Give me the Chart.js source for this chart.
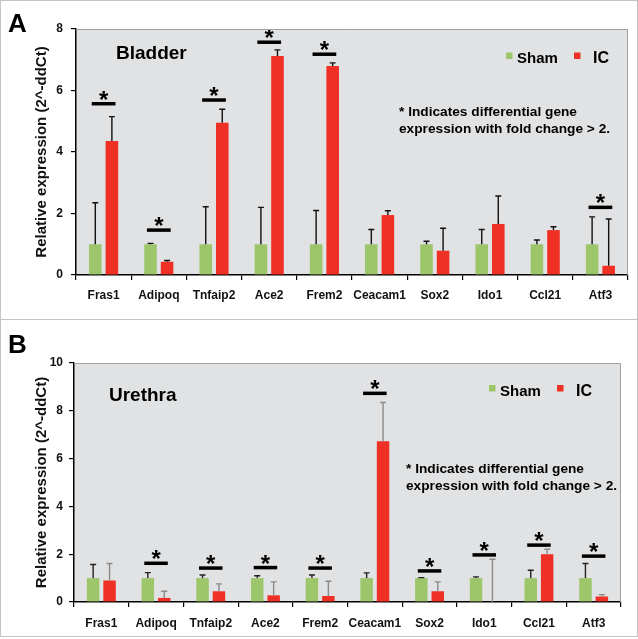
<!DOCTYPE html>
<html>
<head>
<meta charset="utf-8">
<script src="https://cdn.jsdelivr.net/npm/chart.js@4/dist/chart.umd.min.js"></script>
<style>
  html, body { margin:0; padding:0; background:#fff; }
  #wrap { position:relative; width:638px; height:639px; overflow:hidden; }
  .frame { position:absolute; border:1px solid #c4c4c4; box-sizing:border-box; }
  canvas { position:absolute; left:0; }
</style>
</head>
<body>
<div id="wrap">
  <div class="frame" style="left:0;top:0;width:638px;height:320px;"></div>
  <div class="frame" style="left:0;top:319px;width:638px;height:318px;"></div>
  <canvas id="cA" width="638" height="319" style="top:0"></canvas>
  <canvas id="cB" width="638" height="320" style="top:319px"></canvas>
</div>
<script>
// ---------- DATA ----------
const categories = ['Fras1','Adipoq','Tnfaip2','Ace2','Frem2','Ceacam1','Sox2','Ido1','Ccl21','Atf3'];
const seriesNames = ['Sham','IC'];

// Panel A - Bladder
const bladderSham   = [1, 1, 1, 1, 1, 1, 1, 1, 1, 1];
const bladderShamSD = [1.35, 0.03, 1.22, 1.20, 1.10, 0.48, 0.10, 0.48, 0.14, 0.89];
const bladderIC     = [4.36, 0.43, 4.95, 7.12, 6.80, 1.95, 0.79, 1.66, 1.46, 0.30];
const bladderICSD   = [0.79, 0.04, 0.44, 0.20, 0.10, 0.14, 0.73, 0.91, 0.11, 1.52];
const bladderSig    = [5.57, 1.46, 5.69, 7.57, 7.18, null, null, null, null, 2.20];
const bladderTicks  = {min:0, max:8, step:2};

// Panel B - Urethra
const urethraSham   = [1, 1, 1, 1, 1, 1, 1, 1, 1, 1];
const urethraShamSD = [0.57, 0.23, 0.13, 0.10, 0.13, 0.22, 0.02, 0.05, 0.33, 0.61];
const urethraIC     = [0.90, 0.17, 0.45, 0.28, 0.25, 6.73, 0.45, 0.00, 2.00, 0.23];
const urethraICSD   = [0.71, 0.28, 0.31, 0.56, 0.62, 1.62, 0.39, 1.79, 0.21, 0.08];
const urethraSig    = [null, 1.62, 1.42, 1.44, 1.42, 8.73, 1.30, 1.97, 2.38, 1.92];
const urethraTicks  = {min:0, max:10, step:2};

const yTitle = 'Relative expression (2^-ddCt)';
const noteLines = ['* Indicates differential gene', 'expression with fold change > 2.'];

// ---------- STYLE ----------
const FONT = "'Liberation Sans', Arial, Helvetica, sans-serif";
const GREEN = '#9dc66a';
const RED = '#ee3124';
const PLOT_BG = '#e1e2e4';
Chart.defaults.font.family = FONT;
Chart.defaults.color = '#111';

const decorPlugin = {
  id: 'decor',
  beforeDraw(chart, args, o) {
    const {ctx, chartArea:a} = chart;
    ctx.save();
    ctx.fillStyle = PLOT_BG;
    ctx.fillRect(a.left, a.top, a.right - a.left, a.bottom - a.top);
    ctx.restore();
  },
  afterDatasetsDraw(chart, args, o) {
    const {ctx, chartArea:a} = chart;
    const xs = chart.scales.x, ys = chart.scales.y;
    ctx.save();
    // error bars (upper only)
    chart.data.datasets.forEach((ds, di) => {
      const meta = chart.getDatasetMeta(di);
      ctx.strokeStyle = ds.errColor;
      ctx.lineWidth = 1.4;
      meta.data.forEach((bar, i) => {
        const sd = ds.sd[i];
        if (sd == null) return;
        const yTop = ys.getPixelForValue(ds.data[i] + sd);
        const yBase = ys.getPixelForValue(ds.data[i]);
        ctx.beginPath();
        ctx.moveTo(bar.x, yBase);
        ctx.lineTo(bar.x, yTop);
        ctx.moveTo(bar.x - 3, yTop);
        ctx.lineTo(bar.x + 3, yTop);
        ctx.stroke();
      });
    });
    // significance bars and stars
    const catW = (xs.right - xs.left) / chart.data.labels.length;
    o.sig.forEach((v, i) => {
      if (v == null) return;
      const cx = xs.getPixelForValue(i);
      const y = ys.getPixelForValue(v);
      ctx.strokeStyle = '#000';
      ctx.lineWidth = 3.5;
      ctx.beginPath();
      ctx.moveTo(cx - catW * 0.215, y);
      ctx.lineTo(cx + catW * 0.215, y);
      ctx.stroke();
      ctx.fillStyle = '#000';
      ctx.font = 'bold 24px ' + FONT;
      ctx.textAlign = 'center';
      ctx.textBaseline = 'alphabetic';
      ctx.fillText('*', cx, y + 4);
    });
    ctx.restore();
  },
  afterDraw(chart, args, o) {
    const {ctx, chartArea:a} = chart;
    ctx.save();
    // plot frame top/right
    ctx.strokeStyle = '#a0a0a0';
    ctx.lineWidth = 1;
    ctx.beginPath();
    ctx.moveTo(a.left, a.top + 0.5);
    ctx.lineTo(a.right - 0.5, a.top + 0.5);
    ctx.lineTo(a.right - 0.5, a.bottom);
    ctx.stroke();
    ctx.fillStyle = '#000';
    ctx.textAlign = 'left';
    ctx.textBaseline = 'alphabetic';
    // panel letter
    ctx.font = 'bold 26px ' + FONT;
    ctx.fillText(o.letter, o.letterX, o.letterY);
    // tissue title
    ctx.font = 'bold 19px ' + FONT;
    ctx.fillText(o.title, o.titleX, o.titleY);
    // note
    ctx.font = 'bold 13.7px ' + FONT;
    noteLines.forEach((t, k) => ctx.fillText(t, o.noteX, o.noteY + k * 17));
    // legend
    const L = o.legend;
    ctx.fillStyle = GREEN;
    ctx.fillRect(L.x1, L.y, 6.5, 6.5);
    ctx.fillStyle = RED;
    ctx.fillRect(L.x2, L.y, 6.5, 6.5);
    ctx.fillStyle = '#000';
    ctx.font = 'bold 15px ' + FONT;
    ctx.fillText(seriesNames[0], L.x1 + 11, L.y + 10.5);
    ctx.font = 'bold 16px ' + FONT;
    ctx.fillText(seriesNames[1], L.x2 + 19, L.y + 10.5);
    ctx.restore();
  }
};

function makeChart(id, sham, shamSD, ic, icSD, sig, tk, layout, decor, errColors) {
  return new Chart(document.getElementById(id), {
    type: 'bar',
    data: {
      labels: categories,
      datasets: [
        {label: seriesNames[0], data: sham, sd: shamSD, errColor: errColors[0],
         backgroundColor: GREEN, categoryPercentage: 0.6, barPercentage: 0.76},
        {label: seriesNames[1], data: ic, sd: icSD, errColor: errColors[1],
         backgroundColor: RED, categoryPercentage: 0.6, barPercentage: 0.76}
      ]
    },
    options: {
      responsive: false,
      animation: false,
      devicePixelRatio: 1,
      layout: {padding: layout.padding},
      plugins: {
        legend: {display: false},
        tooltip: {enabled: false},
        decor: Object.assign({sig: sig}, decor)
      },
      scales: {
        x: {
          z: 1,
          grid: {display: true, drawOnChartArea: false, drawTicks: true, tickLength: 5, color: '#000', lineWidth: 1.2, offset: true},
          border: {display: true, color: '#000', width: 1.5},
          ticks: {font: {size: 12, weight: 'bold'}, color: '#111', padding: layout.xPad, maxRotation: 0, autoSkip: false},
          afterFit(s) { s.height = 30; }
        },
        y: {
          z: 1,
          min: tk.min, max: tk.max,
          grid: {display: true, drawOnChartArea: false, drawTicks: true, tickLength: 5, color: '#000', lineWidth: 1.2},
          border: {display: true, color: '#000', width: 1.5},
          ticks: {stepSize: tk.step, font: {size: 12, weight: 'bold'}, color: '#111', padding: layout.yPad},
          title: {display: true, text: yTitle, font: {size: 15, weight: 'bold'}, color: '#111', padding: {top: 33, bottom: 0}},
          afterFit(s) { s.width = layout.yWidth; }
        }
      }
    },
    plugins: [decorPlugin]
  });
}

makeChart('cA', bladderSham, bladderShamSD, bladderIC, bladderICSD, bladderSig, bladderTicks,
  {padding: {left: 0, right: 10, top: 29, bottom: 14}, xPad: 8, yPad: 8, yWidth: 76},
  {letter: 'A', letterX: 8, letterY: 32, title: 'Bladder', titleX: 116, titleY: 59,
   noteX: 399, noteY: 116, legend: {x1: 506, x2: 574, y: 52.5}},
  ['#111', '#111']);

makeChart('cB', urethraSham, urethraShamSD, urethraIC, urethraICSD, urethraSig, urethraTicks,
  {padding: {left: 0, right: 17, top: 44, bottom: 7}, xPad: 9, yPad: 6, yWidth: 74},
  {letter: 'B', letterX: 8, letterY: 34, title: 'Urethra', titleX: 109, titleY: 82,
   noteX: 406, noteY: 153.5, legend: {x1: 489, x2: 557, y: 66}},
  ['#222', '#8a8a8a']);
</script>
</body>
</html>
